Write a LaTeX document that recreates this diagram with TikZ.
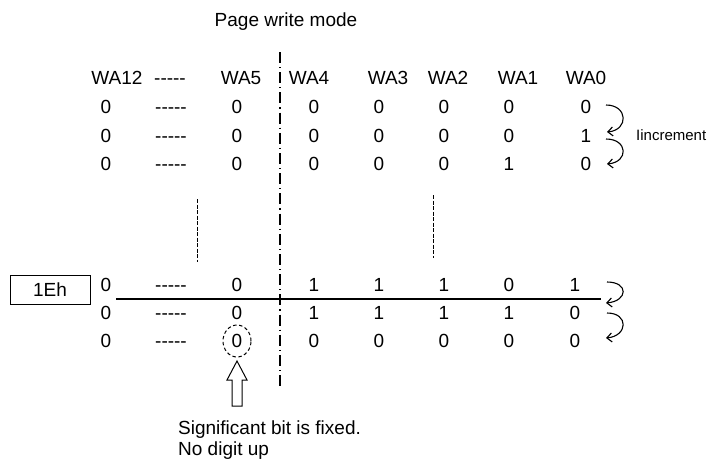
\documentclass[tikz,border=0pt]{standalone}
\usepackage{fontspec}
\setmainfont{Liberation Sans}[Ligatures=TeXOff]
\usetikzlibrary{arrows.meta,calc,shapes.geometric}
\begin{document}
\begin{tikzpicture}[x=1pt,y=-1pt,
  txt/.style={font=\fontsize{19}{22}\selectfont, inner sep=0pt, text height=13.6pt, text depth=0pt, anchor=center},
  small/.style={font=\fontsize{15}{18}\selectfont, inner sep=0pt, anchor=west},
  dashdot/.style={line width=1.2pt, dash pattern=on 11pt off 4pt on 1.2pt off 4pt},
  shortdash/.style={line width=1pt, dash pattern=on 4pt off 1.5pt},
  inc/.style={line width=1.1pt, -{Straight Barb[length=5pt,width=9pt]}},
  boxed/.style={draw, line width=1pt, minimum width=80pt, minimum height=29pt, font=\fontsize{19}{22}\selectfont, inner sep=0pt}]
\useasboundingbox (0,0) rectangle (727,472);

\node[txt] (title) at (286,20) {Page write mode};

% header
\node[txt] (h12) at (117,78) {WA12};
\node[txt] (hd) at (170,78) {-----};
\node[txt] (h5) at (241,78) {WA5};
\node[txt] (h4) at (309,78) {WA4};
\node[txt] (h3) at (388,78) {WA3};
\node[txt] (h2) at (448,78) {WA2};
\node[txt] (h1) at (518,78) {WA1};
\node[txt] (h0) at (586,78) {WA0};

% upper rows
\foreach \r/\y/\a/\b in {1/107/0/0, 2/136/0/1, 3/164/1/0}{
  \node[txt] (r\r c12) at (106,\y) {0};
  \node[txt] (r\r d) at (171,\y) {-----};
  \node[txt] (r\r c5) at (237,\y) {0};
  \node[txt] (r\r c4) at (314,\y) {0};
  \node[txt] (r\r c3) at (379,\y) {0};
  \node[txt] (r\r c2) at (444,\y) {0};
  \node[txt] (r\r c1) at (509,\y) {\a};
  \node[txt] (r\r c0) at (586,\y) {\b};
}

% lower rows
\foreach \r/\y/\p/\q/\s/\t/\u in {A/285/1/1/1/0/1, B/313/1/1/1/1/0, C/341/0/0/0/0/0}{
  \node[txt] (\r c12) at (106,\y) {0};
  \node[txt] (\r d) at (171,\y) {-----};
  \node[txt] (\r c4) at (314,\y) {\p};
  \node[txt] (\r c3) at (379,\y) {\q};
  \node[txt] (\r c2) at (444,\y) {\s};
  \node[txt] (\r c1) at (509,\y) {\t};
  \node[txt] (\r c0) at (575,\y) {\u};
}
\node[txt] (Ac5) at (237,285) {0};
\node[txt] (Bc5) at (237,313) {0};
\node[txt, ellipse, draw, dash pattern=on 3.5pt off 2.5pt, line width=1pt, minimum width=28pt, minimum height=32pt, inner sep=0pt] (Cc5) at (237,341) {0};

% box
\node[boxed] (eh) at (50,290) {1Eh};

% vertical lines
\coordinate (vt) at (280,52);
\coordinate (vb) at (280,388);
\draw[dashdot] (vt) -- (vb);
\coordinate (d1t) at (197,199);
\coordinate (d1b) at (197,262);
\draw[shortdash] (d1t) -- (d1b);
\coordinate (d2t) at (433,195);
\coordinate (d2b) at (433,258);
\draw[shortdash] (d2t) -- (d2b);

% horizontal line
\coordinate (hl) at (116,299);
\coordinate (hr) at (601,299);
\draw[line width=1.2pt] (hl) -- (hr);

% increment arrows (upper)
\draw[inc] ($(r1c0)+(20,-2)$) .. controls +(22,0) and +(22,-2) .. ($(r2c0)+(21,-4)$);
\draw[inc] ($(r2c0)+(20,3)$) .. controls +(22,0) and +(22,-2) .. ($(r3c0)+(21,0)$);
\node[small] (incr) at (636,135) {Iincrement};

% increment arrows (lower)
\draw[inc] ($(Ac0)+(32,-3)$) .. controls +(22,0) and +(22,-2) .. ($(Ac0)+(31,18)$);
\draw[inc] ($(Bc0)+(32,0)$) .. controls +(22,0) and +(22,-2) .. ($(Cc0)+(31,-3)$);

% hollow up arrow
\draw[line width=1pt, line join=miter] (237,361) -- (247,380) -- (242,380) -- (242,406) -- (232,406) -- (232,380) -- (227,380) -- cycle;

\node[font=\fontsize{19}{21}\selectfont, inner sep=0pt, anchor=north west, align=left] (note) at (178,421) {Significant bit is fixed.\\No digit up};
\end{tikzpicture}
\end{document}
